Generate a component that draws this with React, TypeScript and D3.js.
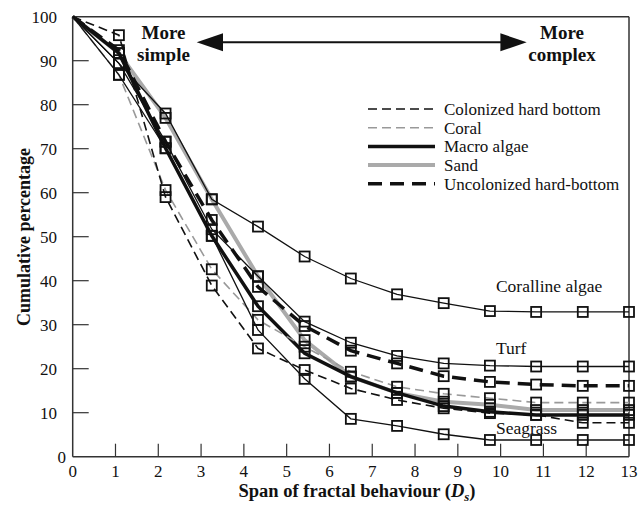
import * as d3 from "d3"

const spans = [0, 1.08, 2.17, 3.25, 4.33, 5.42, 6.5, 7.58, 8.67, 9.75, 10.83, 11.92, 13]

const coralline = [100, 89.4, 78, 58.5, 52.3, 45.5, 40.5, 36.9, 34.9, 33.1, 32.9, 32.9, 32.9]
const turf = [100, 89.4, 71.6, 51.7, 41.0, 30.7, 25.9, 22.9, 21.2, 20.7, 20.5, 20.5, 20.5]
const seagrass = [100, 86.8, 70.1, 50.2, 28.8, 17.7, 8.6, 7.0, 5.1, 3.8, 3.8, 3.8, 3.8]
const colonized = [100, 95.8, 59.0, 38.9, 24.6, 19.7, 15.5, 12.9, 11.0, 9.9, 9.5, 7.7, 7.7]
const coral = [100, 86.8, 60.6, 42.6, 31.1, 25.0, 19.3, 15.9, 14.3, 13.3, 12.3, 12.3, 12.3]
const macroAlgae = [100, 91.7, 70.1, 50.2, 34.2, 23.5, 18.2, 14.5, 11.5, 10.2, 9.5, 9.5, 9.5]
const sand = [100, 91.7, 77.0, 58.5, 41.0, 26.5, 18.2, 14.5, 12.5, 11.8, 10.6, 10.6, 10.6]
const uncolonized = [100, 92.4, 71.6, 53.8, 38.6, 29.7, 24.1, 21.2, 18.3, 17.0, 16.4, 16.1, 16.1]

const xTicks = [0, 1, 2, 3, 4, 5, 6, 7, 8, 9, 10, 11, 12, 13]
const yTicks = [0, 10, 20, 30, 40, 50, 60, 70, 80, 90, 100]

const legendNames = ["Colonized hard bottom", "Coral", "Macro algae", "Sand", "Uncolonized hard-bottom"]

const serif = "'Liberation Serif', 'Times New Roman', serif"

type Style = { color: string; width: number; dash?: string }

const series: { name: string; values: number[]; style: Style; label?: string }[] = [
  { name: "Sand", values: sand, style: { color: "#aaaaaa", width: 4 } },
  { name: "Macro algae", values: macroAlgae, style: { color: "#111", width: 3.5 } },
  { name: "Uncolonized hard-bottom", values: uncolonized, style: { color: "#111", width: 3.5, dash: "14,8" } },
  { name: "Coral", values: coral, style: { color: "#999999", width: 1.6, dash: "9,5" } },
  { name: "Colonized hard bottom", values: colonized, style: { color: "#111", width: 1.6, dash: "9,5" } },
  { name: "Coralline algae", values: coralline, style: { color: "#111", width: 1.3 }, label: "Coralline algae" },
  { name: "Turf", values: turf, style: { color: "#111", width: 1.3 }, label: "Turf" },
  { name: "Seagrass", values: seagrass, style: { color: "#111", width: 1.3 }, label: "Seagrass" },
]

export default function App() {
  const width = 639
  const height = 506
  const x = d3.scaleLinear().domain([0, 13]).range([72.7, 629])
  const y = d3.scaleLinear().domain([0, 100]).range([456.7, 16.7])

  const line = d3
    .line<number>()
    .x((_, i) => x(spans[i]))
    .y((d) => y(d))

  const styleOf = (n: string) => series.find((s) => s.name === n)!.style

  // where the curve labels sit
  const labelPos: Record<string, [number, number]> = {
    "Coralline algae": [9.75, 37.5],
    Turf: [9.75, 23.4],
    Seagrass: [9.75, 5.2],
  }

  return (
    <svg width={width} height={height} style={{ position: "absolute", left: 0, top: 0, background: "#fff" }}>
      {/* frame */}
      <line x1={x(0)} x2={x(13)} y1={y(100)} y2={y(100)} stroke="#333" strokeWidth={1.5} />
      <line x1={x(13)} x2={x(13)} y1={y(100)} y2={y(0)} stroke="#333" strokeWidth={1.5} />
      <line x1={x(0)} x2={x(0)} y1={y(100)} y2={y(0)} stroke="#333" strokeWidth={1.5} />
      <line x1={x(0)} x2={x(13)} y1={y(0)} y2={y(0)} stroke="#333" strokeWidth={1.5} />

      {/* ticks */}
      {xTicks.slice(1, -1).map((t) => (
        <line key={"xt" + t} x1={x(t)} x2={x(t)} y1={y(0)} y2={y(0) - 13} stroke="#333" strokeWidth={1.2} />
      ))}
      {yTicks.slice(1, -1).map((t) => (
        <line key={"yt" + t} x1={x(0)} x2={x(0) + 16} y1={y(t)} y2={y(t)} stroke="#333" strokeWidth={1.2} />
      ))}
      {xTicks.map((t) => (
        <text key={"xl" + t} x={x(t)} y={477} textAnchor="middle" fontFamily={serif} fontSize={17} fill="#111">
          {t}
        </text>
      ))}
      {yTicks.map((t) => (
        <text
          key={"yl" + t}
          x={t === 0 ? 66 : 57}
          y={y(t)}
          dy="0.35em"
          textAnchor="end"
          fontFamily={serif}
          fontSize={17}
          fill="#111"
        >
          {t}
        </text>
      ))}

      {/* axis titles */}
      <text x={357} y={497} textAnchor="middle" fontFamily={serif} fontSize={18.5} fontWeight="bold" fill="#111">
        Span of fractal behaviour (<tspan fontStyle="italic">D</tspan>
        <tspan fontStyle="italic" fontSize={13} dy={4}>s</tspan>
        <tspan dy={-4}>)</tspan>
      </text>
      <text
        transform={`translate(30,${237}) rotate(-90)`}
        textAnchor="middle"
        fontFamily={serif}
        fontSize={18}
        fontWeight="bold"
        fill="#111"
      >
        Cumulative percentage
      </text>

      {/* series lines */}
      {series.map((s) => (
        <path
          key={s.name}
          d={line(s.values) || ""}
          fill="none"
          stroke={s.style.color}
          strokeWidth={s.style.width}
          strokeDasharray={s.style.dash}
        />
      ))}

      {/* markers */}
      {series.map((s) =>
        s.values.slice(1).map((v, i) => (
          <rect
            key={s.name + i}
            x={x(spans[i + 1]) - 5}
            y={y(v) - 5}
            width={10}
            height={10}
            fill="none"
            stroke="#111"
            strokeWidth={1.8}
          />
        ))
      )}

      {/* curve labels */}
      {series
        .filter((s) => s.label)
        .map((s) => (
          <text
            key={"lab" + s.name}
            x={x(labelPos[s.name][0]) + 6}
            y={y(labelPos[s.name][1])}
            fontFamily={serif}
            fontSize={17.5}
            fill="#111"
          >
            {s.label}
          </text>
        ))}

      {/* direction arrow */}
      <line x1={215} x2={510} y1={42.3} y2={42.3} stroke="#111" strokeWidth={2} />
      <path d="M196.7,42.3 L223,33.3 L223,51.3 Z" fill="#111" />
      <path d="M526.7,42.3 L500.4,33.3 L500.4,51.3 Z" fill="#111" />
      <text x={163.5} y={39} textAnchor="middle" fontFamily={serif} fontSize={19} fontWeight="bold" fill="#111">
        More
      </text>
      <text x={163.5} y={61} textAnchor="middle" fontFamily={serif} fontSize={19} fontWeight="bold" fill="#111">
        simple
      </text>
      <text x={562} y={39} textAnchor="middle" fontFamily={serif} fontSize={19} fontWeight="bold" fill="#111">
        More
      </text>
      <text x={562} y={61} textAnchor="middle" fontFamily={serif} fontSize={19} fontWeight="bold" fill="#111">
        complex
      </text>

      {/* legend */}
      {legendNames.map((n, i) => {
        const st = styleOf(n)
        const ly = 109 + i * 18.7
        return (
          <g key={"lg" + n}>
            <line
              x1={368}
              x2={435}
              y1={ly}
              y2={ly}
              stroke={st.color}
              strokeWidth={st.width}
              strokeDasharray={st.dash}
            />
            <text x={444} y={ly} dy="0.35em" fontFamily={serif} fontSize={17} fill="#111">
              {n}
            </text>
          </g>
        )
      })}
    </svg>
  )
}
